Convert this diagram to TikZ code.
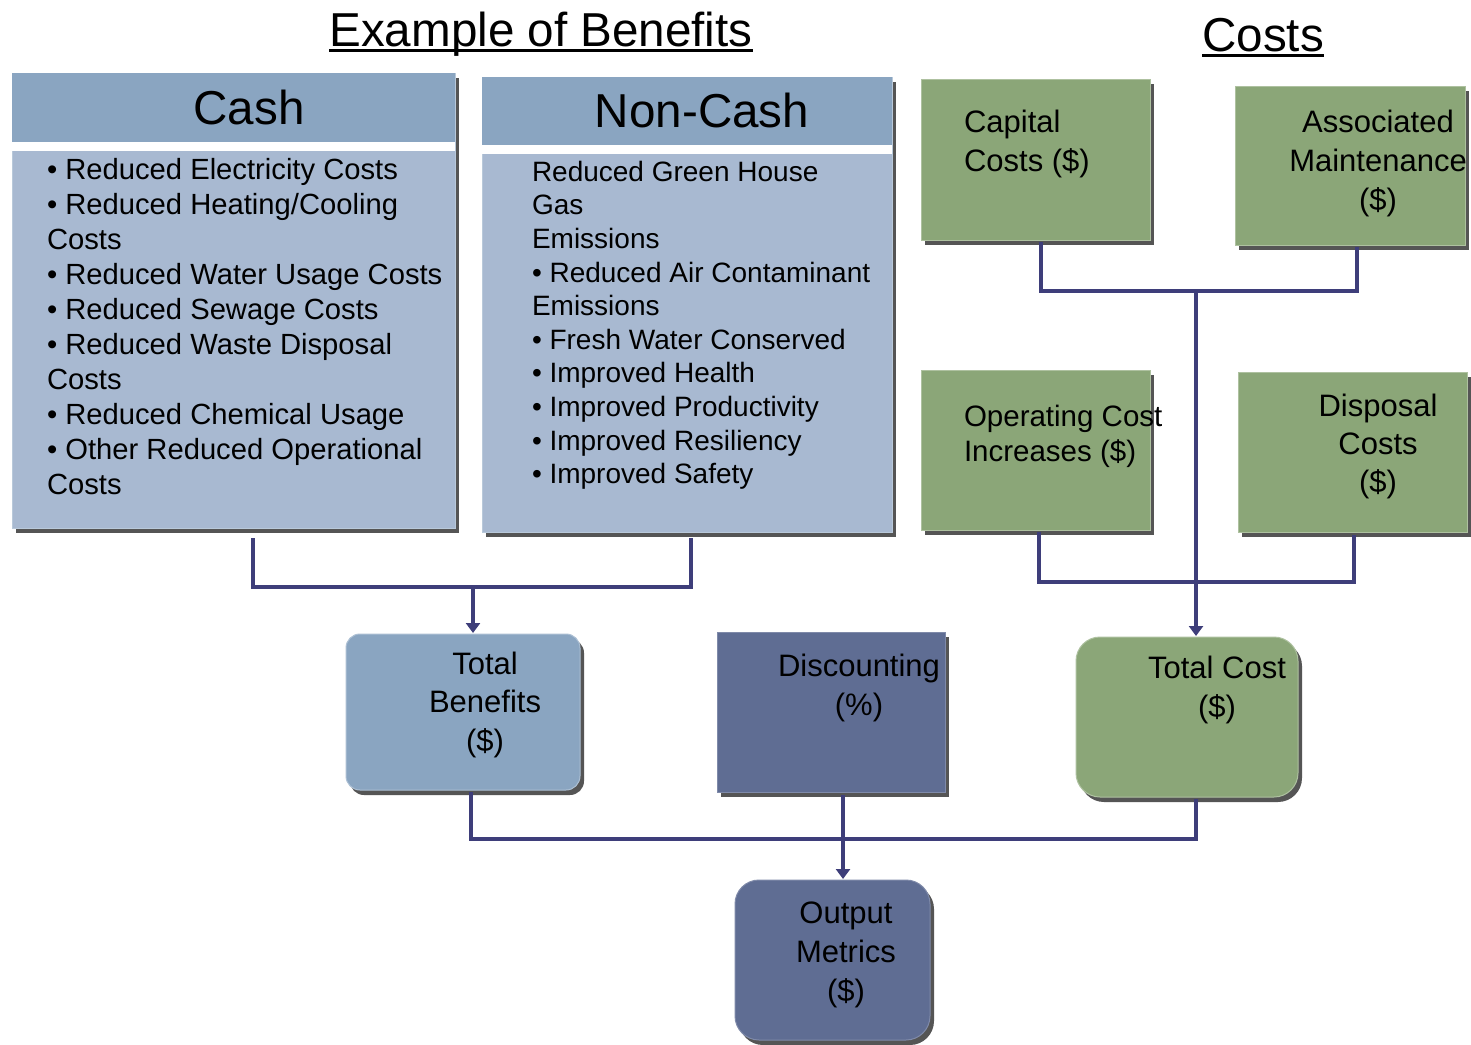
\documentclass[tikz,border=0pt]{standalone}
\usepackage{fontspec}
\setmainfont{Liberation Sans}
\usetikzlibrary{shadows,calc,arrows.meta}
\definecolor{hdrblue}{RGB}{138,165,193}
\definecolor{bodyblue}{RGB}{168,185,209}
\definecolor{cgreen}{RGB}{139,166,120}
\definecolor{slate}{RGB}{95,109,147}
\definecolor{lineblue}{RGB}{62,62,122}
\definecolor{shadowgray}{RGB}{85,85,85}
\begin{document}
\begin{tikzpicture}[x=1pt,y=-1pt,
 shd/.style={drop shadow={shadow xshift=4pt,shadow yshift=-5pt,fill=shadowgray,opacity=1}},
 boxn/.style={anchor=north west,inner sep=0pt,outer sep=0pt,shd,line width=1pt},
 plain/.style={anchor=north west,inner sep=0pt,outer sep=0pt},
 conn/.style={draw=lineblue,line width=3.5pt},
 arr/.style={-{Triangle[length=10pt,width=14pt]}},
 txt/.style={inner sep=0pt,outer sep=0pt},
 ftitle/.style={font=\fontsize{47.6}{57}\selectfont},
 fbody/.style={font=\fontsize{29.2}{35}\selectfont},
 fbig/.style={font=\fontsize{31}{39}\selectfont}
]
\useasboundingbox[fill=white] (0,0) rectangle (1471,1044);

% titles
\node[txt,anchor=base,ftitle] (t1) at (541,46) {Example of Benefits};
\draw[line width=2.5pt] ([yshift=-4.5pt]t1.base west) -- ([yshift=-4.5pt]t1.base east);
\node[txt,anchor=base,ftitle] (t2) at (1263,51) {Costs};
\draw[line width=2.5pt] ([yshift=-4.5pt]t2.base west) -- ([yshift=-4.5pt]t2.base east);

% Cash box
\node[boxn,fill=bodyblue,draw=hdrblue!60!white,minimum width=443pt,minimum height=455pt] (cash) at (12,73) {};
\node[plain,fill=hdrblue,minimum width=443pt,minimum height=69pt] (cashhd) at (12,73) {};
\node[plain,fill=white,minimum width=443pt,minimum height=9pt] (cashst) at (12,142) {};
\node[txt,anchor=base,ftitle] (cashlbl) at (249,124) {Cash};
\node[txt,anchor=north west,align=left,fbody] (cashtxt) at (47,158) {• Reduced Electricity Costs\\• Reduced Heating/Cooling\\Costs\\• Reduced Water Usage Costs\\• Reduced Sewage Costs\\• Reduced Waste Disposal\\Costs\\• Reduced Chemical Usage\\• Other Reduced Operational\\Costs};

% Non-Cash box
\node[boxn,fill=bodyblue,draw=hdrblue!60!white,minimum width=410pt,minimum height=455pt] (noncash) at (482,77) {};
\node[plain,fill=hdrblue,minimum width=410pt,minimum height=68pt] (nchd) at (482,77) {};
\node[plain,fill=white,minimum width=410pt,minimum height=9pt] (ncst) at (482,145) {};
\node[txt,anchor=base,ftitle] (nclbl) at (702,127) {Non-Cash};
\node[txt,anchor=north west,align=left,font=\fontsize{28}{33.6}\selectfont] (nctxt) at (532,161) {Reduced Green House\\Gas\\Emissions\\• Reduced Air Contaminant\\Emissions\\• Fresh Water Conserved\\• Improved Health\\• Improved Productivity\\• Improved Resiliency\\• Improved Safety};

% Cost boxes
\node[boxn,fill=cgreen,draw=cgreen!70!white,minimum width=229pt,minimum height=161pt] (capital) at (921,79) {};
\node[txt,anchor=north west,align=left,fbig] (capt) at (964,110) {Capital\\Costs (\$)};

\node[boxn,fill=cgreen,draw=cgreen!70!white,minimum width=230pt,minimum height=159pt] (assoc) at (1235,86) {};
\node[txt,anchor=north,align=center,fbig] (asst) at (1378,110) {Associated\\Maintenance\\(\$)};

\node[boxn,fill=cgreen,draw=cgreen!70!white,minimum width=229pt,minimum height=160pt] (oper) at (921,370) {};
\node[txt,anchor=north west,align=left,font=\fontsize{29.5}{35}\selectfont] (opert) at (964,405) {Operating Cost\\Increases (\$)};

\node[boxn,fill=cgreen,draw=cgreen!70!white,minimum width=229pt,minimum height=160pt] (disp) at (1238,372) {};
\node[txt,anchor=north,align=center,font=\fontsize{31}{38}\selectfont] (dispt) at (1378,394) {Disposal\\Costs\\(\$)};

% lower boxes
\node[boxn,fill=hdrblue,draw=hdrblue!70!white,rounded corners=14pt,minimum width=234pt,minimum height=156pt] (tb) at (346,634) {};
\node[txt,anchor=north,align=center,font=\fontsize{31}{38.5}\selectfont] (tbt) at (485,652) {Total\\Benefits\\(\$)};

\node[boxn,fill=slate,draw=slate!80!white,minimum width=228pt,minimum height=160pt] (disc) at (717,632) {};
\node[txt,anchor=north,align=center,fbig] (disct) at (859,654) {Discounting\\(\%)};

\node[boxn,fill=cgreen,draw=cgreen!70!white,rounded corners=24pt,minimum width=222pt,minimum height=160pt] (tc) at (1076,637) {};
\node[txt,anchor=north,align=center,fbig] (tct) at (1217,656) {Total Cost\\(\$)};

\node[boxn,fill=slate,draw=slate!80!white,rounded corners=24pt,minimum width=195pt,minimum height=160pt] (out) at (735,880) {};
\node[txt,anchor=north,align=center,fbig] (outt) at (846,902) {Output\\Metrics\\(\$)};

% connectors - benefits
\draw[conn] ($(cash.south west)+(241,10)$) |- ($(noncash.south west)+(209,55)$) -- ($(noncash.south west)+(209,6)$);
\draw[conn,arr] ($(tb.north)+(10,-47)$) -- ($(tb.north)+(10,-1)$);
% connectors - costs
\draw[conn] ($(capital.south west)+(120,2)$) |- ($(assoc.south west)+(122,46)$) -- ($(assoc.south west)+(122,2)$);
\draw[conn] ($(oper.south west)+(118,2)$) |- ($(disp.south west)+(116,50)$) -- ($(disp.south west)+(116,3)$);
\draw[conn,arr] ($(tc.north)+(9,-346)$) -- ($(tc.north)+(9,-1)$);
% connectors - bottom
\draw[conn] ($(tb.south)+(8,2)$) |- ($(tc.south)+(9,42)$) -- ($(tc.south)+(9,2)$);
\draw[conn,arr] ($(disc.south)+(12,3)$) -- ($(out.north)+(10.5,-1)$);
\end{tikzpicture}
\end{document}
